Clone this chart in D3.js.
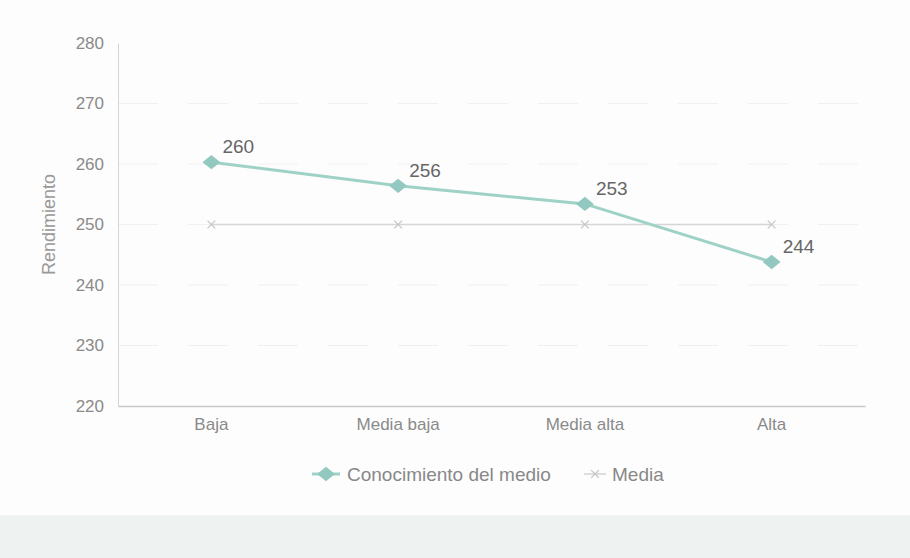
<!DOCTYPE html>
<html><head><meta charset="utf-8">
<script src="https://cdn.jsdelivr.net/npm/d3@7"></script>
<style>
html,body{margin:0;padding:0;background:#fdfdfd;}
svg{display:block;}
text{font-family:"Liberation Sans Narrow","Arial Narrow","Liberation Sans",sans-serif;}
</style></head>
<body>
<svg id="chart" width="910" height="558"></svg>
<script>
const categories = ["Baja", "Media baja", "Media alta", "Alta"];
const conocimiento = [260.3, 256.4, 253.4, 243.8];
const media = [250, 250, 250, 250];
const yTicks = [220, 230, 240, 250, 260, 270, 280];
const seriesNames = ["Conocimiento del medio", "Media"];

const W = 910, H = 558;
const margin = {left:118, right:45, top:43, bottom:152};
const svg = d3.select("#chart");

svg.append("rect").attr("x",0).attr("y",0).attr("width",W).attr("height",H).attr("fill","#fdfdfd");
svg.append("rect").attr("x",0).attr("y",515).attr("width",W).attr("height",H-515).attr("fill","#eef2f0");

const x = d3.scaleBand().domain(categories).range([margin.left, W - margin.right]);
const y = d3.scaleLinear().domain([220, 280]).range([H - margin.bottom, margin.top]);
const cx = c => x(c) + x.bandwidth()/2;

// gridlines
svg.append("g").selectAll("line").data(yTicks.filter(t => t > 220 && t < 280)).join("line")
  .attr("x1", margin.left).attr("x2", W - margin.right)
  .attr("y1", d => y(d)).attr("y2", d => y(d))
  .attr("stroke", "#f0f0f0").attr("stroke-dasharray", "40,30");

// y axis
const yAxis = svg.append("g").attr("transform", `translate(${margin.left},0)`)
  .call(d3.axisLeft(y).tickValues(yTicks).tickSize(0).tickPadding(14));
yAxis.select(".domain").attr("stroke", "#d4d4d4");
yAxis.selectAll("text").attr("fill", "#8a8a8a").style("font-size", "17px");

// x axis
const xAxis = svg.append("g").attr("transform", `translate(0,${y(220)})`)
  .call(d3.axisBottom(x).tickSize(0).tickPadding(12));
xAxis.select(".domain").attr("stroke", "#c8c8c8").attr("stroke-width", 1.5);
xAxis.selectAll("text").attr("fill", "#8a8a8a").style("font-size", "17px");

// y title
svg.append("text").attr("transform", `translate(55,${(y(220)+y(280))/2}) rotate(-90)`)
  .attr("text-anchor", "middle").attr("fill", "#999").style("font-size", "18px")
  .text("Rendimiento");

// Media series
const line = d3.line().x((d,i) => cx(categories[i])).y(d => y(d));
svg.append("path").datum(media).attr("d", line).attr("fill", "none")
  .attr("stroke", "#d6d6d6").attr("stroke-width", 1.6);
const xMark = d3.symbol().type(d3.symbolX).size(40);
svg.append("g").selectAll("path").data(media).join("path")
  .attr("transform", (d,i) => `translate(${cx(categories[i])},${y(d)})`)
  .attr("d", xMark).attr("fill", "none").attr("stroke", "#c4c4c4").attr("stroke-width", 1.2);

// Conocimiento series
svg.append("path").datum(conocimiento).attr("d", line).attr("fill", "none")
  .attr("stroke", "#9fd2c6").attr("stroke-width", 3);
const diamond = d3.symbol().type(d3.symbolDiamond2).size(130);
svg.append("g").selectAll("path").data(conocimiento).join("path")
  .attr("transform", (d,i) => `translate(${cx(categories[i])},${y(d)}) scale(1.25,1)`)
  .attr("d", diamond).attr("fill", "#92c8bf");
svg.append("g").selectAll("text").data(conocimiento).join("text")
  .attr("x", (d,i) => cx(categories[i]) + 11).attr("y", d => y(d) - 9)
  .attr("fill", "#666").style("font-size", "19px")
  .text(d => d3.format(".0f")(d));

// Legend
const lg = svg.append("g");
lg.append("line").attr("x1", 312).attr("x2", 340).attr("y1", 474).attr("y2", 474)
  .attr("stroke", "#9fd2c6").attr("stroke-width", 3);
lg.append("path").attr("transform", "translate(326,474) scale(1.25,1)").attr("d", diamond).attr("fill", "#92c8bf");
lg.append("text").attr("x", 347).attr("y", 481).attr("fill", "#888").style("font-size", "19px").text(seriesNames[0]);
lg.append("line").attr("x1", 584).attr("x2", 606).attr("y1", 474).attr("y2", 474)
  .attr("stroke", "#d6d6d6").attr("stroke-width", 1.6);
lg.append("path").attr("transform", "translate(595,474)").attr("d", xMark)
  .attr("fill", "none").attr("stroke", "#c4c4c4").attr("stroke-width", 1.2);
lg.append("text").attr("x", 612).attr("y", 481).attr("fill", "#888").style("font-size", "19px").text(seriesNames[1]);
</script>
</body></html>
